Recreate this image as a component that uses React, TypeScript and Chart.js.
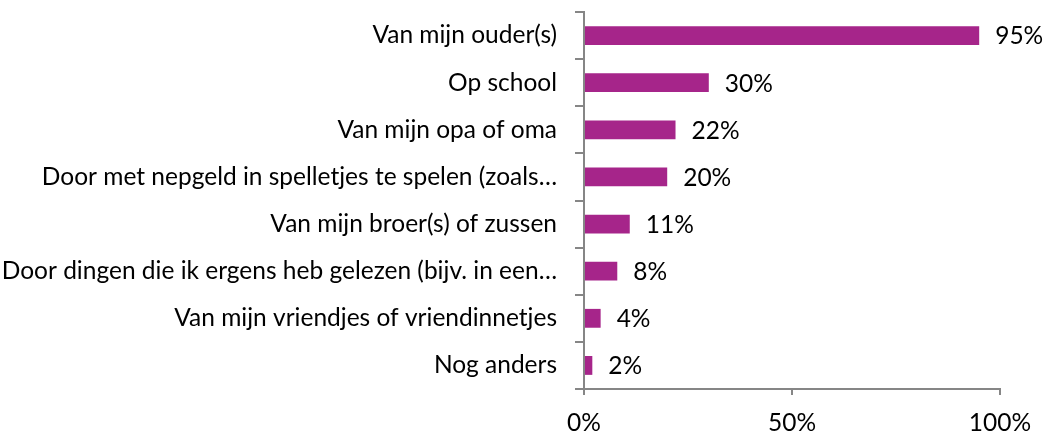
import React, { useEffect, useRef } from "react";
import { Chart, registerables } from "chart.js";

Chart.register(...registerables);

const categories = [
  "Van mijn ouder(s)",
  "Op school",
  "Van mijn opa of oma",
  "Door met nepgeld in spelletjes te spelen (zoals…",
  "Van mijn broer(s) of zussen",
  "Door dingen die ik ergens heb gelezen (bijv. in een…",
  "Van mijn vriendjes of vriendinnetjes",
  "Nog anders",
];
const values = [95, 30, 22, 20, 11, 8, 4, 2];
const xTicks = [0, 50, 100];

const FONT = "Lato, 'Open Sans', sans-serif";
const AXIS = "#868686";
const BAR = "#A6258A";

const labelPlugin = {
  id: "barLabels",
  afterDatasetsDraw(chart: any) {
    const ctx = chart.ctx;
    const meta = chart.getDatasetMeta(0);
    ctx.save();
    ctx.font = `24.5px ${FONT}`;
    ctx.fillStyle = "#000";
    ctx.textAlign = "left";
    ctx.textBaseline = "middle";
    meta.data.forEach((el: any, i: number) => {
      ctx.fillText(`${values[i]}%`, el.x + 16, el.y + 1);
    });
    ctx.restore();
  },
};

export default function App() {
  const ref = useRef<HTMLCanvasElement | null>(null);
  useEffect(() => {
    if (!ref.current) return;
    const chart = new Chart(ref.current, {
      type: "bar",
      data: {
        labels: categories,
        datasets: [
          {
            data: values,
            backgroundColor: BAR,
            borderWidth: 0,
            barPercentage: 0.5,
            categoryPercentage: 0.8,
          },
        ],
      },
      options: {
        indexAxis: "y",
        animation: false,
        responsive: false,
        maintainAspectRatio: false,
        layout: { padding: { top: 12, right: 59, left: 0, bottom: 0 } },
        plugins: { legend: { display: false }, tooltip: { enabled: false } },
        scales: {
          x: {
            min: 0,
            max: 100,
            afterBuildTicks: (scale: any) => {
              scale.ticks = xTicks.map((v) => ({ value: v }));
            },
            afterFit: (scale: any) => {
              scale.height = 45;
              scale.paddingLeft = 0;
              scale.paddingRight = 0;
            },
            ticks: {
              callback: (v: any) => `${v}%`,
              color: "#000",
              font: { family: FONT, size: 24.5 },
              padding: 13,
              maxRotation: 0,
            },
            grid: {
              drawOnChartArea: false,
              drawTicks: true,
              tickLength: 6,
              color: AXIS,
              lineWidth: 2,
            },
            border: { color: AXIS, width: 2 },
          },
          y: {
            afterFit: (scale: any) => {
              scale.width = 584;
              scale.paddingTop = 0;
              scale.paddingBottom = 0;
            },
            ticks: {
              color: "#000",
              font: { family: FONT, size: 24.5 },
              padding: 18,
              autoSkip: false,
            },
            grid: {
              offset: true,
              drawOnChartArea: false,
              drawTicks: true,
              tickLength: 9,
              color: AXIS,
              lineWidth: 2,
            },
            border: { color: AXIS, width: 2 },
          },
        },
      },
      plugins: [labelPlugin],
    });
    return () => chart.destroy();
  }, []);
  return (
    <div style={{ position: "absolute", left: 0, top: 0, width: 1059, height: 434, background: "#fff" }}>
      <canvas ref={ref} width={1059} height={434} style={{ display: "block" }} />
    </div>
  );
}
